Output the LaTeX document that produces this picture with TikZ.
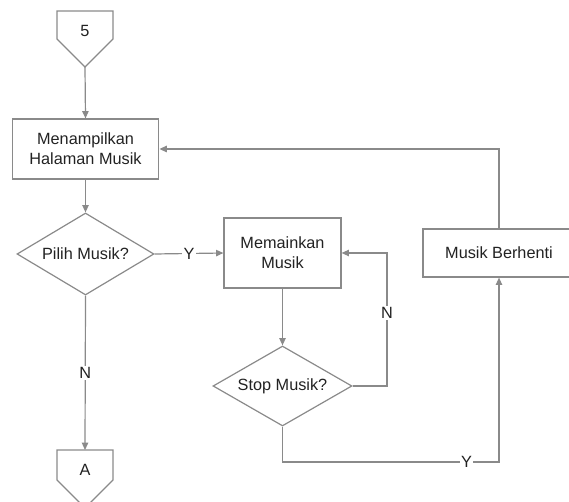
\documentclass[tikz,border=0pt]{standalone}
\usepackage{fontspec}
\setmainfont{Liberation Sans}
\usetikzlibrary{shapes.geometric,arrows.meta}
\definecolor{ln}{HTML}{8A8A8A}
\definecolor{tx}{HTML}{222222}
\begin{document}
\begin{tikzpicture}[x=0.75pt,y=-0.75pt,
  font=\fontsize{12.2pt}{15pt}\selectfont, text=tx,
  procbox/.style={draw=ln,line width=0.9pt,rectangle,inner sep=0pt,align=center},
  decbox/.style={draw=ln,line width=0.9pt,diamond,aspect=1.7,inner sep=0pt,align=center},
  conn/.style={draw=ln,line width=0.9pt},
  flow/.style={conn,-{Triangle[length=5.5pt,width=4.8pt]}},
  lbl/.style={fill=white,inner sep=1pt,text=tx}]
\useasboundingbox (0,0) rectangle (569,502);
\clip (0,0) rectangle (569,502);
% off-page connectors
\draw[conn] (57,11) -- (113,11) -- (113,39) -- (85,67) -- (57,39) -- cycle;
\node (c5) at (85,31) {5};
\coordinate (c5tip) at (85,67);
\draw[conn] (57,450) -- (113,450) -- (113,480) -- (85,508) -- (57,480) -- cycle;
\node (cA) at (85,470) {A};
\coordinate (cAtop) at (85,450);
% process boxes
\node[procbox,minimum width=110pt,minimum height=45pt] (b1) at (85.5,149) {Menampilkan\\Halaman Musik};
\node[procbox,minimum width=87.75pt,minimum height=52.5pt] (b2) at (282.5,253) {Memainkan\\Musik};
\node[procbox,minimum width=114pt,minimum height=36pt] (b3) at (499,253) {Musik Berhenti};
% decisions
\node[decbox,minimum width=102.75pt,minimum height=61.5pt] (d1) at (85.5,254) {Pilih Musik?};
\node[decbox,minimum width=104.25pt,minimum height=60pt] (d2) at (282.5,386) {Stop Musik?};
% connectors
\draw[flow] (c5tip) -- (b1.north);
\draw[flow] (b1.south) -- (d1.north);
\draw[flow] (d1.east) -- node[lbl]{Y} (b2.west);
\draw[flow] (d1.south) -- node[lbl]{N} (cAtop);
\draw[flow] (b2.south) -- (d2.north);
\draw[flow] (d2.east) -- (387,386) -- node[lbl,pos=0.55]{N} (387,253) -- (b2.east);
\draw[flow] (d2.south) -- (282.5,462) -- node[lbl,pos=0.85]{Y} (499,462) -- (b3.south);
\draw[flow] (b3.north) -- (499,149) -- (b1.east);
\end{tikzpicture}
\end{document}
